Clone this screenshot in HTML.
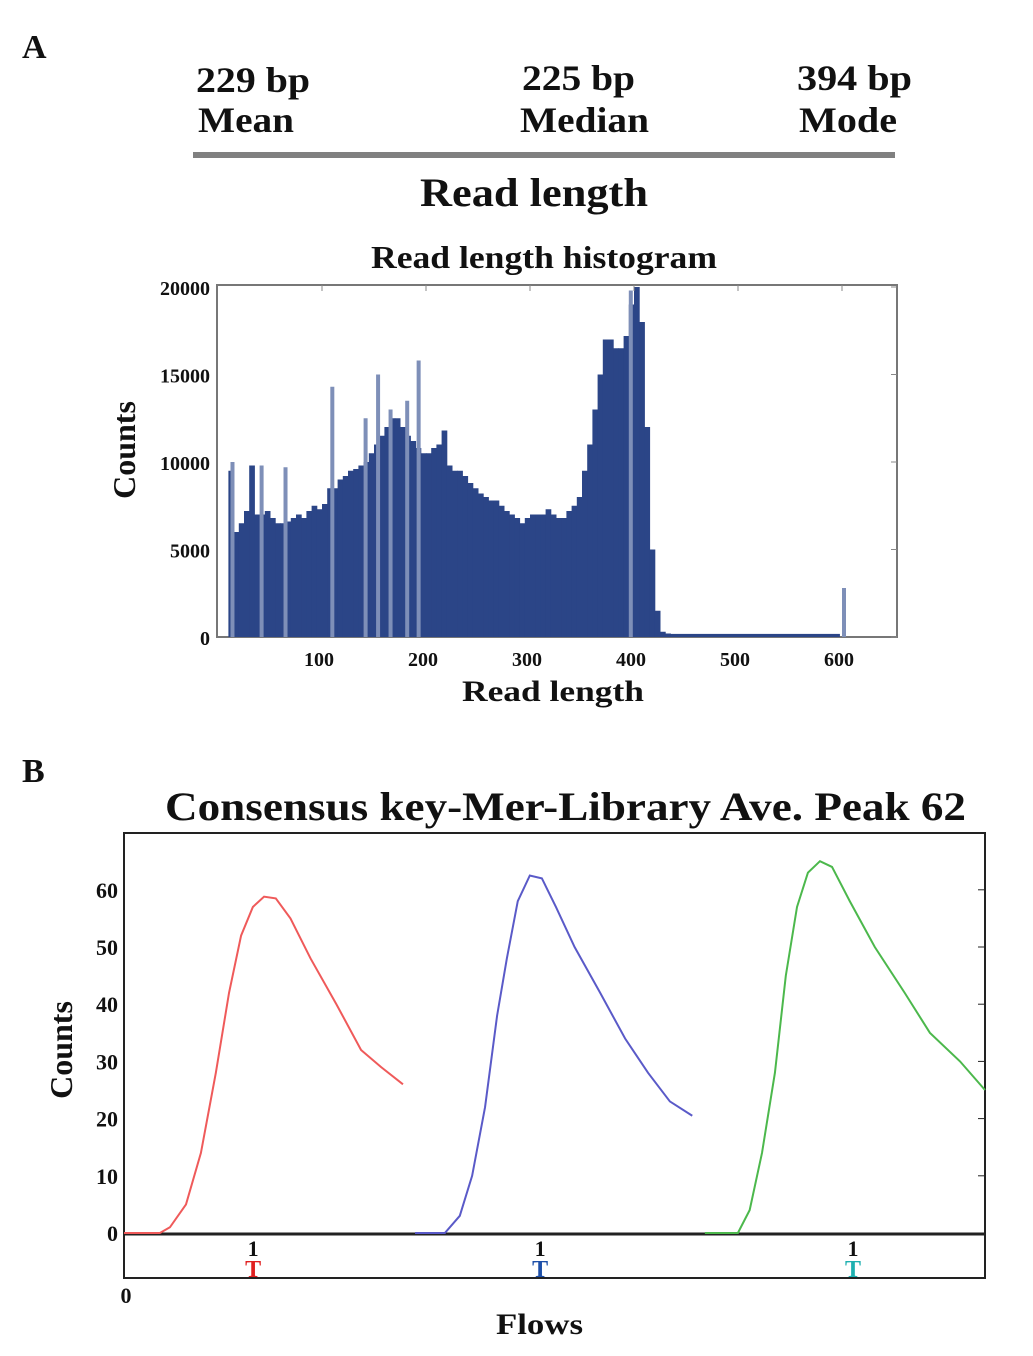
<!DOCTYPE html>
<html><head><meta charset="utf-8">
<style>
body{margin:0;background:#fff;width:1033px;height:1351px;overflow:hidden}
svg text{font-family:"Liberation Serif",serif;font-weight:bold;fill:#111}
</style></head>
<body>
<svg id="fig" width="1033" height="1351" viewBox="0 0 1033 1351">
<text x="22" y="58" font-size="34">A</text>
<text x="196" y="92" font-size="36" textLength="114" lengthAdjust="spacingAndGlyphs">229 bp</text>
<text x="198" y="132" font-size="36" textLength="96" lengthAdjust="spacingAndGlyphs">Mean</text>
<text x="522" y="90" font-size="36" textLength="113" lengthAdjust="spacingAndGlyphs">225 bp</text>
<text x="520" y="132" font-size="36" textLength="129" lengthAdjust="spacingAndGlyphs">Median</text>
<text x="797" y="90" font-size="36" textLength="115" lengthAdjust="spacingAndGlyphs">394 bp</text>
<text x="799" y="132" font-size="36" textLength="98" lengthAdjust="spacingAndGlyphs">Mode</text>
<rect x="193" y="152" width="702" height="6" fill="#808080"/>
<text x="420" y="206" font-size="40" textLength="228" lengthAdjust="spacingAndGlyphs">Read length</text>
<text x="371" y="268" font-size="32" textLength="346" lengthAdjust="spacingAndGlyphs">Read length histogram</text>
<g id="hist"></g>
<text x="462" y="701" font-size="30" textLength="182" lengthAdjust="spacingAndGlyphs">Read length</text>
<text transform="translate(135,450) rotate(-90)" font-size="32" text-anchor="middle">Counts</text>

<text x="22" y="782" font-size="34">B</text>
<text x="165" y="820" font-size="40" textLength="801" lengthAdjust="spacingAndGlyphs">Consensus key-Mer-Library Ave. Peak 62</text>
<g id="flow"></g>
<text x="496" y="1334" font-size="30" textLength="87" lengthAdjust="spacingAndGlyphs">Flows</text>
<text transform="translate(72,1050) rotate(-90)" font-size="32" text-anchor="middle">Counts</text>
</svg>
<script>
// ---- Histogram data (read length bp, counts in thousands)
const binStarts=[10,15,20,25,30,35,40,45,50,55,60,65,70,75,80,85,90,95,100,105,110,115,120,125,130,135,140,145,150,155,160,165,170,175,180,185,190,195,200,205,210,215,220,225,230,235,240,245,250,255,260,265,270,275,280,285,290,295,300,305,310,315,320,325,330,335,340,345,350,355,360,365,370,375,380,385,390,395,400,405,410,415,420,425,430];
const binCounts=[9.5,6,6.5,7.2,9.8,7,7,7.2,6.8,6.5,6.5,6.6,6.8,7,6.8,7.2,7.5,7.3,7.6,8.5,8.5,9,9.2,9.5,9.6,9.8,10,10.5,11,11.5,12,12.5,12.5,12,11.5,11.2,10.8,10.5,10.5,10.8,11,11.8,9.8,9.5,9.5,9.2,8.8,8.5,8.2,8,7.8,7.8,7.5,7.2,7,6.8,6.5,6.8,7,7,7,7.3,7,6.8,6.8,7.2,7.5,8,9.5,11,13,15,17,17,16.5,16.5,17.2,19,20,18,12,5,1.5,0.3,0.2];
const spikeLengths=[12,40,63,108,140,152,164,180,191,395,600];
const spikeCounts=[10,9.8,9.7,14.3,12.5,15,13,13.5,15.8,19.8,2.8];
const tailStart=435, tailEnd=598, tailCount=0.12;
const histXTicks=[100,200,300,400,500,600];
const histYTicks=[0,5000,10000,15000,20000];

// ---- Flow chart data (flow position units 0..300, counts)
const redX=[0,12.5,16,21.6,26.8,32,36.6,40.8,44.9,48.8,52.9,58,65,74,82.6,89.6,97.2];
const redY=[0,0,1,5,14,28,42,52,57,58.8,58.5,55,48,40,32,29,26];
const blueX=[101.4,111.8,117,121.3,125.8,130,133.4,137.2,141.4,145.6,150.5,157,165.9,174.6,182.6,190.2,198];
const blueY=[0,0,3,10,22,38,48,58,62.5,62,57,50,42,34,28,23,20.5];
const greenX=[202.4,213.9,218,222.3,226.8,230.6,234.5,238.3,242.5,246.7,252.9,261.6,272,280.8,291.3,300];
const greenY=[0,0,4,14,28,45,57,63,65,64,58,50,42,35,30,25];
const flowYTicks=[0,10,20,30,40,50,60];
const flowMarkers=[45,145,254];
const flowMarkerLabels=["1","1","1"];
const flowMarkerBases=["T","T","T"];

const NS="http://www.w3.org/2000/svg";
function mk(tag,attrs,parent){const e=document.createElementNS(NS,tag);for(const k in attrs)e.setAttribute(k,attrs[k]);parent.appendChild(e);return e;}

const hx=v=>218+1.04*v, hy=k=>637-17.5*k;
const H=document.getElementById('hist');
let fr=mk('rect',{x:217,y:285,width:680,height:352,fill:'#fff',stroke:'#777','stroke-width':2},H);


binStarts.forEach((s,i)=>{
  const b=mk('rect',{x:hx(s),y:hy(binCounts[i]),width:1.04*5+0.5,height:637-hy(binCounts[i]),fill:'#2b4587'},H);
  
  
});
let t=mk('rect',{x:hx(tailStart),y:hy(tailCount)-1,width:hx(tailEnd)-hx(tailStart),height:637-hy(tailCount)+1,fill:'#2b4587'},H);


spikeLengths.forEach((s,i)=>{
  const b=mk('rect',{x:hx(s),y:hy(spikeCounts[i]),width:4,height:637-hy(spikeCounts[i]),fill:'#7e8fb8'},H);
  
  
});
histXTicks.forEach(v=>{
  const l=mk('line',{x1:hx(v),x2:hx(v),y1:285,y2:291,stroke:'#888'},H);
  
  
  const tx=mk('text',{x:hx(v)-3,y:666,'font-size':20,'text-anchor':'middle'},H);
  tx.textContent=v;
  
  
});
histYTicks.forEach(v=>{
  const y=hy(v/1000);
  const l=mk('line',{x1:891,x2:897,y1:y,y2:y,stroke:'#888'},H);
  
  
  const tx=mk('text',{x:210,y:y+8,'font-size':20,'text-anchor':'end'},H);
  tx.textContent=v;
  
  
});

const fx=u=>124+2.87*u, fy=c=>1233-5.72*c;
const F=document.getElementById('flow');
let ff=mk('rect',{x:124,y:833,width:861,height:445,fill:'none',stroke:'#222','stroke-width':2},F);


let bl=mk('line',{x1:124,x2:985,y1:1234,y2:1234,stroke:'#222','stroke-width':3},F);


flowYTicks.forEach(v=>{
  const tx=mk('text',{x:118,y:fy(v)+8,'font-size':22,'text-anchor':'end'},F);
  tx.textContent=v;
  
  
  const l=mk('line',{x1:978,x2:985,y1:fy(v),y2:fy(v),stroke:'#222'},F);
  
  
});
[[redX,redY,'#ef5a5a','red-curve'],[blueX,blueY,'#5a5ac8','blue-curve'],[greenX,greenY,'#4cb84c','green-curve']].forEach(([xs,ys,c,n])=>{
  const p=mk('polyline',{points:xs.map((x,i)=>fx(x)+','+fy(ys[i])).join(' '),fill:'none',stroke:c,'stroke-width':2},F);
  
  
});
const baseColors=['#e02020','#1d4fa8','#1eb0b0'];
flowMarkers.forEach((u,i)=>{
  const a=mk('text',{x:fx(u),y:1256,'font-size':22,'text-anchor':'middle'},F);
  a.textContent=flowMarkerLabels[i];
  
  
  const b=mk('text',{x:fx(u),y:1277,'font-size':24,'text-anchor':'middle',style:'fill:'+baseColors[i]},F);
  b.textContent=flowMarkerBases[i];
  
  
});
const z=mk('text',{x:126,y:1303,'font-size':22,'text-anchor':'middle'},F);
z.textContent='0';


</script>
</body></html>
